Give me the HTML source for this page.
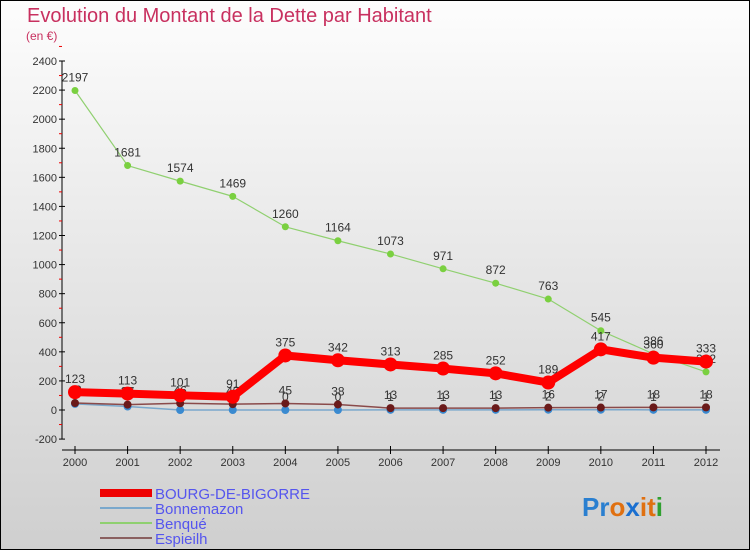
<!DOCTYPE html>
<html><head><meta charset="utf-8"><style>
body{margin:0}
svg text{font-family:"Liberation Sans",sans-serif}
</style></head><body>
<svg id="chart" width="750" height="550" xmlns="http://www.w3.org/2000/svg">
<defs><linearGradient id="bg" x1="0" y1="0" x2="0" y2="1"><stop offset="0" stop-color="#fdfdfd"/><stop offset="1" stop-color="#cfcfcf"/></linearGradient></defs>
<rect x="0.5" y="0.5" width="749" height="549" fill="url(#bg)" stroke="#000"/>
<text x="27" y="22" font-size="20" fill="#c8305f">Evolution du Montant de la Dette par Habitant</text>
<text x="26" y="40" font-size="12" fill="#c8305f">(en €)</text>
<g id="axes"></g><g id="series"></g>
<g>
<rect x="100" y="489" width="52" height="8" fill="#e00"/>
<text x="155" y="499" font-size="15" fill="#5555ee">BOURG-DE-BIGORRE</text>
<line x1="100" y1="508" x2="152" y2="508" stroke="#7aa8cc" stroke-width="2"/>
<text x="155" y="514" font-size="15" fill="#5555ee">Bonnemazon</text>
<line x1="100" y1="523" x2="152" y2="523" stroke="#8fd070" stroke-width="2"/>
<text x="155" y="529" font-size="15" fill="#5555ee">Benqué</text>
<line x1="100" y1="538" x2="152" y2="538" stroke="#8a6060" stroke-width="2"/>
<text x="155" y="544" font-size="15" fill="#5555ee">Espieilh</text>
</g>
<g font-size="26" font-weight="bold">
<text x="582" y="516"><tspan fill="#2a7fd0">Pr</tspan><tspan fill="#e07010">o</tspan><tspan fill="#1a6fd0">x</tspan><tspan fill="#e07010">i</tspan><tspan fill="#e07010">t</tspan><tspan fill="#30a030">i</tspan></text>
</g>
</svg>
<script>
const years=[2000,2001,2002,2003,2004,2005,2006,2007,2008,2009,2010,2011,2012];
const yTicks=[-200,0,200,400,600,800,1000,1200,1400,1600,1800,2000,2200,2400];
const bourg=[123,113,101,91,375,342,313,285,252,189,417,360,333];
const bonnemazon=[42,24,0,0,0,0,1,1,1,2,2,1,1];
const benque=[2197,1681,1574,1469,1260,1164,1073,971,872,763,545,386,262];
const espieilh=[48,37,46,40,45,38,13,13,13,16,17,18,18];
const NS="http://www.w3.org/2000/svg";
const X=i=>75+i*(706-75)/12;
const Y=v=>410-v*(349/2400);
function mk(t,a,p){const e=document.createElementNS(NS,t);for(const k in a)e.setAttribute(k,a[k]);p.appendChild(e);return e;}
const ax=document.getElementById('axes');
const yl=mk('line',{x1:62,y1:Y(2400),x2:62,y2:Y(-200),stroke:'#000'},ax);


yTicks.forEach(v=>{
 const t=mk('line',{x1:59,y1:Y(v),x2:65,y2:Y(v),stroke:'#000'},ax);
 
 
 const m=mk('line',{x1:59,y1:Y(v+100),x2:62,y2:Y(v+100),stroke:'#e00'},ax);
 
 
 const l=mk('text',{x:57,y:Y(v)+4,'font-size':11,'text-anchor':'end',fill:'#333'},ax);
 l.textContent=v;
 
 
});
const xl=mk('line',{x1:62,y1:450,x2:720,y2:450,stroke:'#000'},ax);


years.forEach((y,i)=>{
 const t=mk('line',{x1:X(i),y1:446,x2:X(i),y2:454,stroke:'#000'},ax);
 
 
 const l=mk('text',{x:X(i),y:466,'font-size':11,'text-anchor':'middle',fill:'#333'},ax);
 l.textContent=y;
 
 
});
const sg=document.getElementById('series');
function draw(arr,name,color,w,r,dot){
 const g=mk('g',{},sg);
 
 
 const p=mk('polyline',{points:arr.map((v,i)=>X(i)+','+Y(v)).join(' '),fill:'none',stroke:color,'stroke-width':w,'stroke-linejoin':'round'},g);
 
 
 arr.forEach((v,i)=>{
  const c=mk('circle',{cx:X(i),cy:Y(v),r:r,fill:dot},g);
  
  
  const l=mk('text',{x:X(i),y:Y(v)-9,'font-size':12,'text-anchor':'middle',fill:'#333'},g);
  l.textContent=v;
  
  
 });
}
draw(bonnemazon,'bonnemazon','#7aa8cc',1.5,4,'#3a8ad0');
draw(espieilh,'espieilh','#8a4a4a',1.5,4,'#6a1a1a');
draw(benque,'benque','#90d070',1.2,3.5,'#7ad040');
draw(bourg,'bourg','#f00',8,7,'#f00');
</script>
</body></html>
